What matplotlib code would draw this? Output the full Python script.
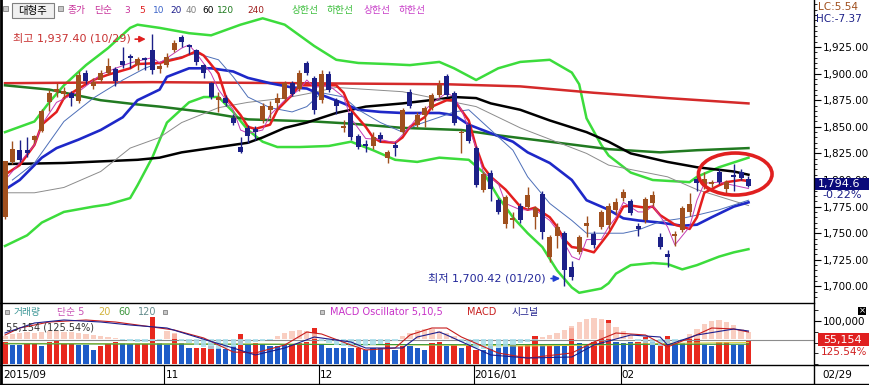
import matplotlib.pyplot as plt
import numpy as np
from matplotlib.patches import Rectangle, Ellipse
from matplotlib.lines import Line2D

plt.rcParams['font.family'] = ['DejaVu Sans', 'Noto Sans CJK KR']

# daily candles, 2015-09-30 .. 2016-02-29
opens = [1765, 1817, 1828, 1828, 1838, 1846, 1873, 1883, 1881, 1882,
         1874, 1901, 1888, 1894, 1901, 1904, 1912, 1917, 1908, 1915,
         1922, 1904, 1908, 1922, 1934, 1926, 1922, 1908, 1891, 1875,
         1877, 1858, 1831, 1849, 1848, 1856, 1866, 1872, 1876, 1891,
         1886, 1910, 1896, 1875, 1900, 1875, 1849, 1863, 1841, 1834,
         1832, 1842, 1821, 1833, 1845, 1883, 1852, 1861, 1868, 1880,
         1898, 1882, 1844, 1852, 1830, 1791, 1807, 1781, 1759, 1762,
         1776, 1775, 1765, 1787, 1728, 1747, 1750, 1718, 1732, 1757,
         1749, 1756, 1758, 1772, 1783, 1780, 1757, 1762, 1778, 1746,
         1730, 1747, 1753, 1770, 1801, 1794, 1796, 1808, 1792, 1804,
         1808, 1801]
highs = [1818, 1837, 1838, 1840, 1842, 1867, 1885, 1891, 1887, 1884,
         1902, 1903, 1896, 1903, 1915, 1906, 1925, 1918, 1916, 1916,
         1937.4, 1910, 1919, 1932, 1936, 1928, 1923, 1909, 1892, 1883,
         1880, 1862, 1840, 1852, 1851, 1872, 1874, 1882, 1893, 1893,
         1903, 1912, 1898, 1903, 1902, 1877, 1856, 1865, 1843, 1838,
         1845, 1845, 1828, 1836, 1868, 1886, 1864, 1870, 1882, 1894,
         1900, 1884, 1847, 1854, 1832, 1808, 1809, 1783, 1786, 1770,
         1778, 1793, 1776, 1790, 1748, 1760, 1752, 1724, 1748, 1766,
         1752, 1772, 1778, 1783, 1792, 1782, 1760, 1784, 1790, 1750,
         1734, 1752, 1776, 1788, 1804, 1808, 1800, 1810, 1800, 1815,
         1810, 1804]
lows = [1763, 1815, 1817, 1822, 1835, 1845, 1865, 1878, 1876, 1870,
        1872, 1890, 1886, 1892, 1899, 1888, 1905, 1905, 1903, 1903,
        1900, 1901, 1906, 1920, 1925, 1918, 1908, 1896, 1876, 1864,
        1870, 1852, 1825, 1835, 1838, 1854, 1858, 1866, 1874, 1879,
        1884, 1899, 1862, 1872, 1883, 1862, 1845, 1838, 1829, 1826,
        1829, 1836, 1816, 1823, 1843, 1868, 1850, 1850, 1866, 1878,
        1878, 1852, 1825, 1835, 1793, 1789, 1780, 1768, 1755, 1755,
        1760, 1773, 1754, 1745, 1723, 1736, 1700.42, 1706, 1730, 1746,
        1736, 1754, 1754, 1768, 1780, 1767, 1747, 1760, 1776, 1735,
        1718, 1738, 1751, 1766, 1790, 1792, 1793, 1796, 1788, 1790,
        1800, 1793]
closes = [1818, 1829, 1819, 1825, 1841, 1865, 1882, 1886, 1884, 1877,
          1899, 1893, 1892, 1901, 1907, 1893, 1908, 1915, 1914, 1913,
          1903, 1907, 1916, 1929, 1930, 1925, 1911, 1901, 1878, 1878,
          1872, 1854, 1826, 1841, 1845, 1870, 1870, 1877, 1891, 1881,
          1901, 1901, 1866, 1900, 1885, 1870, 1851, 1840, 1831, 1832,
          1840, 1839, 1826, 1830, 1866, 1870, 1861, 1868, 1880, 1889,
          1880, 1854, 1845, 1837, 1795, 1806, 1792, 1770, 1784, 1764,
          1762, 1786, 1774, 1751, 1746, 1756, 1715, 1709, 1746, 1760,
          1739, 1770, 1776, 1779, 1789, 1769, 1754, 1782, 1786, 1737,
          1728, 1749, 1774, 1777, 1797, 1801, 1798, 1798, 1798, 1803,
          1802, 1794.6]

# moving averages / bands, sampled at candle indices
ma3_i = [0, 1, 4, 5, 7, 10, 13, 15, 17, 20, 21, 24, 25, 26, 28, 29, 31, 32, 33, 35, 36, 38, 40, 41, 42,
         44, 46, 47, 49, 51, 53, 55, 56, 58, 60, 61, 62, 64, 65, 67, 68, 70, 72, 74, 75, 77, 78, 79, 81,
         82, 83, 84, 86, 87, 88, 90, 91, 93, 94, 95, 97, 99, 101]
ma3_v = [1800, 1808, 1833, 1852, 1873, 1883, 1899, 1905, 1910, 1915, 1910, 1924, 1927, 1919, 1900, 1885,
         1866, 1847, 1844, 1847, 1861, 1875, 1885, 1894, 1887, 1889, 1878, 1858, 1839, 1838, 1835, 1850,
         1859, 1872, 1882, 1878, 1866, 1831, 1807, 1797, 1778, 1772, 1772, 1762, 1753, 1728, 1725, 1744,
         1744, 1756, 1765, 1779, 1770, 1770, 1776, 1756, 1739, 1756, 1781, 1797, 1798, 1795, 1792]
ma5_i = [0, 2, 4, 5, 7, 8, 10, 12, 14, 17, 18, 21, 24, 26, 27, 29, 30, 32, 33, 34, 36, 37, 39, 40, 43,
         45, 46, 47, 49, 50, 51, 53, 54, 55, 57, 58, 60, 61, 63, 64, 65, 66, 68, 70, 71, 72, 74, 75, 76,
         77, 78, 80, 82, 83, 84, 85, 86, 87, 88, 89, 91, 93, 94, 95, 97, 98, 100, 101]
ma5_v = [1805, 1814, 1833, 1852, 1864, 1877, 1886, 1894, 1899, 1905, 1909, 1910, 1915, 1921, 1917, 1900,
         1878, 1861, 1850, 1848, 1852, 1866, 1880, 1889, 1889, 1889, 1882, 1866, 1850, 1840, 1836, 1835,
         1840, 1850, 1859, 1869, 1875, 1875, 1856, 1831, 1812, 1803, 1791, 1775, 1772, 1774, 1765, 1756,
         1744, 1737, 1736, 1732, 1750, 1762, 1775, 1776, 1775, 1774, 1775, 1767, 1758, 1754, 1765, 1788,
         1795, 1798, 1800, 1799]
ma10_i = [1, 4, 8, 12, 16, 19, 22, 26, 29, 31, 33, 36, 39, 41, 43, 46, 48, 51, 54, 56, 59, 61, 63, 66,
          69, 71, 74, 77, 79, 82, 84, 86, 89, 92, 94, 97, 101]
ma10_v = [1800, 1816, 1855, 1877, 1894, 1905, 1913, 1919, 1913, 1897, 1878, 1868, 1864, 1869, 1882,
          1878, 1866, 1854, 1845, 1852, 1859, 1864, 1866, 1847, 1828, 1803, 1778, 1762, 1750, 1750, 1750,
          1753, 1761, 1764, 1767, 1772, 1781]
ma20_i = [0, 2, 5, 7, 10, 13, 16, 18, 21, 22, 25, 28, 31, 33, 36, 39, 41, 43, 46, 48, 51, 54, 56, 59,
          61, 63, 66, 69, 71, 74, 77, 79, 82, 84, 86, 89, 92, 94, 96, 99, 101]
ma20_v = [1791, 1800, 1821, 1830, 1838, 1847, 1859, 1875, 1885, 1897, 1905, 1905, 1902, 1896, 1891,
          1887, 1886, 1880, 1872, 1866, 1864, 1863, 1863, 1863, 1861, 1852, 1844, 1836, 1826, 1816,
          1800, 1781, 1772, 1764, 1762, 1760, 1757, 1758, 1765, 1775, 1779]
ma40_i = [0, 4, 8, 13, 17, 21, 24, 29, 33, 38, 41, 45, 54, 64, 70, 79, 82, 90, 94, 101]
ma40_v = [1788, 1788, 1793, 1808, 1830, 1840, 1854, 1868, 1873, 1877, 1881, 1887, 1883, 1869, 1849,
          1825, 1814, 1803, 1791, 1776]
ma60_i = [0, 8, 18, 21, 24, 29, 33, 35, 38, 41, 45, 49, 54, 59, 61, 64, 66, 70, 74, 79, 82, 85, 90,
          94, 99, 101]
ma60_v = [1815, 1816, 1819, 1821, 1826, 1831, 1835, 1840, 1849, 1854, 1863, 1869, 1872, 1876, 1878,
          1877, 1872, 1866, 1856, 1845, 1836, 1825, 1817, 1812, 1808, 1805]
ma120_i = [0, 6, 13, 18, 21, 27, 33, 42, 47, 54, 62, 67, 74, 82, 89, 94, 101]
ma120_v = [1889, 1885, 1875, 1871, 1869, 1864, 1857, 1855, 1853, 1849, 1847, 1842, 1836, 1829, 1826,
           1828, 1830]
ma240_i = [0, 20, 40, 60, 70, 80, 90, 101]
ma240_v = [1891, 1892, 1891, 1890, 1888, 1882, 1877, 1872]
bb_up_i = [0, 4, 6, 8, 11, 14, 17, 18, 21, 25, 28, 32, 35, 38, 42, 45, 48, 52, 55, 59, 61, 64, 67, 70,
           74, 77, 78, 79, 81, 82, 85, 88, 93, 94, 97, 101]
bb_up_v = [1845, 1855, 1873, 1889, 1908, 1924, 1943, 1946, 1943, 1938, 1936, 1946, 1952, 1946, 1926,
           1913, 1910, 1909, 1908, 1911, 1905, 1894, 1905, 1911, 1913, 1901, 1890, 1858, 1833, 1823,
           1807, 1800, 1798, 1803, 1812, 1821]
bb_lo_i = [0, 3, 5, 8, 12, 14, 17, 18, 20, 22, 25, 27, 29, 31, 33, 35, 37, 40, 44, 47, 50, 53, 56, 59,
           63, 65, 67, 69, 71, 73, 75, 77, 78, 81, 82, 83, 85, 88, 90, 92, 94, 97, 99, 101]
bb_lo_v = [1738, 1748, 1760, 1770, 1775, 1777, 1783, 1795, 1821, 1854, 1873, 1878, 1878, 1864, 1847,
           1836, 1831, 1831, 1832, 1836, 1828, 1819, 1817, 1821, 1819, 1807, 1784, 1765, 1750, 1737,
           1715, 1699, 1694, 1698, 1703, 1712, 1720, 1722, 1721, 1716, 1720, 1728, 1732, 1735]

# volume (thousand shares) and its colour (1 = red, 0 = blue)
volume = [52, 44, 44, 46, 46, 43, 52, 53, 50, 50, 44, 44, 33, 41, 46, 52, 50, 46, 46, 46,
          110, 48, 44, 70, 48, 37, 38, 38, 41, 37, 35, 41, 70, 44, 50, 46, 41, 43, 44, 44,
          50, 52, 84, 44, 37, 37, 38, 37, 37, 33, 37, 37, 48, 33, 41, 41, 37, 33, 50, 52,
          43, 44, 37, 44, 33, 33, 41, 37, 44, 44, 41, 44, 64, 44, 44, 44, 44, 84, 48, 44,
          52, 78, 103, 52, 48, 52, 52, 62, 52, 44, 64, 48, 48, 60, 60, 44, 41, 52, 52, 44,
          44, 55.154]
vol_red = [1, 0, 0, 1, 1, 0, 1, 1, 1, 1, 0, 0, 0, 1, 1, 1, 0, 0, 1, 1,
           1, 0, 0, 1, 0, 0, 1, 1, 1, 0, 0, 0, 1, 0, 1, 0, 0, 0, 0, 1,
           1, 1, 1, 0, 0, 0, 0, 0, 1, 0, 0, 0, 1, 0, 1, 0, 0, 0, 1, 1,
           0, 1, 0, 1, 1, 0, 0, 0, 0, 0, 1, 1, 1, 0, 1, 0, 0, 1, 0, 0,
           1, 1, 1, 0, 0, 0, 1, 1, 0, 1, 1, 0, 0, 1, 1, 0, 0, 1, 1, 0,
           0, 1]
vma20_i = [0, 20, 40, 60, 70, 80, 90, 101]
vma20_v = [48, 47, 46, 44, 42, 44, 48, 50]
vma60_i = [0, 30, 60, 101]
vma60_v = [47, 46, 45, 46]

# MACD oscillator 5,10,5 (chart units)
macd_osc = [3, 5, 6, 7, 6, 7, 8, 8, 7, 7, 6, 5, 4, 3, 2, 1, -1, -2, -3, -3,
            -2, -1, 8, 6, -2, -4, -6, -8, -10, -10, -9, -8, -6, -4, -3, -2, -1, 3, 6, 8,
            9, 8, 6, -2, -4, -6, -7, -8, -8, -7, -6, -5, -4, -2, 3, 6, 9, 10, 10, 8,
            6, 3, -3, -6, -9, -10, -10, -9, -8, -6, -4, -3, -1, 2, 4, 6, 9, 13, 17, 20,
            21, 20, 16, 12, 8, 4, -2, -4, -6, -7, -5, -3, -1, 5, 10, 15, 18, 19, 17, 14,
            10, 7]
macd_i = [0, 2, 6, 11, 15, 20, 23, 27, 31, 34, 38, 41, 43, 47, 49, 53, 55, 58, 60, 62, 67, 71, 77,
          80, 83, 87, 90, 93, 96, 99, 101]
macd_v = [4, 11, 17, 19, 17, 12, 9, 1, -13, -14, -6, 7, 5, -6, -11, -9, 4, 11, 11, 2, -14, -19, -14,
          -3, 6, 4, -8, 1, 11, 10, 7]
sig_i = [0, 4, 8, 13, 17, 22, 26, 31, 34, 38, 42, 47, 49, 54, 56, 59, 60, 66, 71, 77, 80, 85, 89,
         90, 94, 99, 101]
sig_v = [6, 16, 19, 17, 14, 11, 2, -9, -16, -9, 2, -3, -9, -9, 2, 7, 4, -16, -19, -18, -6, 4, 2, -6,
         4, 10, 8]

month_labels = ['2015/09', '11', '12', '2016/01', '02']
month_starts = [0, 22, 43, 64, 84]

W, H = 869, 385
fig = plt.figure(figsize=(W / 100, H / 100), dpi=100)


def box(x0, y0, x1, y1):
    return [x0 / W, 1 - y1 / H, (x1 - x0) / W, (y1 - y0) / H]


def ftext(x, y, s, **kw):
    fig.text(x / W, 1 - y / H, s, **kw)


def fline(xs, ys, **kw):
    fig.add_artist(Line2D([v / W for v in xs], [1 - v / H for v in ys], transform=fig.transFigure, **kw))


def frect(x0, y0, x1, y1, **kw):
    fig.add_artist(Rectangle((x0 / W, 1 - y1 / H), (x1 - x0) / W, (y1 - y0) / H,
                             transform=fig.transFigure, **kw))


n = len(closes)
idx = np.arange(n)
xlim = (-0.68, 109.9)

# ---------------- price panel ----------------
ax = fig.add_axes(box(0, 0, 814, 303))
ax.set_xlim(*xlim)
ax.set_ylim(1684.4, 1969.2)
for s in ax.spines.values():
    s.set_visible(False)
ax.set_xticks([])
ax.yaxis.tick_right()
ax.set_yticks(np.arange(1700, 1926, 25))
ax.set_yticklabels([f'{v:,.2f}' for v in np.arange(1700, 1926, 25)])
ax.set_yticks(np.arange(1690, 1966, 5), minor=True)
ax.tick_params(axis='y', which='major', direction='out', length=5, width=0.8, pad=1, labelsize=7.5)
ax.tick_params(axis='y', which='minor', direction='out', length=2.5, width=0.6)

ax.plot(bb_up_i, bb_up_v, color='#3CDC3C', lw=1.8, zorder=2)
ax.plot(bb_lo_i, bb_lo_v, color='#3CDC3C', lw=1.8, zorder=2)
ax.plot(ma240_i, ma240_v, color='#D42A2A', lw=1.8, zorder=3)
ax.plot(ma120_i, ma120_v, color='#217A21', lw=1.8, zorder=3)
ax.plot(ma60_i, ma60_v, color='black', lw=1.8, zorder=3)
ax.plot(ma40_i, ma40_v, color='#8C8C8C', lw=0.7, zorder=3)
ax.plot(ma20_i, ma20_v, color='#1E28C8', lw=1.9, zorder=3)
ax.plot(ma10_i, ma10_v, color='#4D6FB8', lw=0.7, zorder=3)
ax.plot(ma5_i, ma5_v, color='#E41E1E', lw=1.8, zorder=4)
ax.plot(ma3_i, ma3_v, color='#C43CB4', lw=0.7, zorder=4)

o = np.array(opens)
c = np.array(closes)
cols = np.where(c >= o, '#A0501E', '#1C2088')
ax.vlines(idx, lows, highs, colors=cols, lw=1.0, zorder=5)
ax.bar(idx, np.maximum(np.abs(c - o), 1.5), bottom=np.minimum(o, c), width=0.68,
       color=cols, linewidth=0, zorder=6)

# high / low markers
hi = int(np.argmax(highs))
lo = int(np.argmin(lows))
ax.text(hi - 2.9, highs[hi] - 4, f'최고 {highs[hi]:,.2f} (10/29)', color='#C83232', fontsize=8,
        ha='right', va='center')
ax.annotate('', xy=(hi - 0.5, highs[hi] - 5), xytext=(hi - 2.7, highs[hi] - 5),
            arrowprops=dict(arrowstyle='-|>', color='#E02020', lw=1.2, mutation_scale=9))
ax.text(lo - 2.5, lows[lo] + 7, f'최저 {lows[lo]:,.2f} (01/20)', color='#23289A', fontsize=8,
        ha='right', va='center')
ax.annotate('', xy=(lo - 0.2, lows[lo] + 7), xytext=(lo - 2.2, lows[lo] + 7),
            arrowprops=dict(arrowstyle='-|>', color='#2040D0', lw=1.2, mutation_scale=9))
ax.add_patch(Ellipse((n - 2.8, 1805.6), 10.0, 39.5, fill=False, edgecolor='#E02020', lw=2.6, zorder=8))

# ---------------- volume / MACD panel ----------------
axv = fig.add_axes(box(0, 303, 814, 365))
axv.set_xlim(*xlim)
axv.set_ylim(-2.3, 141.9)
for s in axv.spines.values():
    s.set_visible(False)
axv.set_xticks([])
axv.yaxis.tick_right()
axv.set_yticks([100])
axv.set_yticklabels(['100,000'])
axv.set_yticks([0, 25, 50, 75, 125], minor=True)
axv.tick_params(axis='y', which='major', direction='out', length=5, width=0.8, pad=1, labelsize=7.5)
axv.tick_params(axis='y', which='minor', direction='out', length=3, width=0.6)
vcols = ['#E8281E' if r else '#1E5CC8' for r in vol_red]
axv.bar(idx, volume, width=0.72, color=vcols, linewidth=0, zorder=2)
axv.plot(vma20_i, vma20_v, color='#E0D040', lw=0.8, zorder=4)
axv.plot(vma60_i, vma60_v, color='#3A9A3A', lw=0.8, zorder=4)
axv.axhline(volume[-1], color='#8C8C8C', lw=0.8, zorder=5)

axm = fig.add_axes(box(0, 303, 814, 365))
axm.patch.set_alpha(0)
axm.set_xlim(*xlim)
axm.set_ylim(-26, 36)
axm.axis('off')
osc = np.array(macd_osc)
ocols = np.where(osc >= 0, '#F9C6B6', '#A6DCEA')
axm.bar(idx, osc, width=0.72, color=ocols, alpha=0.85, linewidth=0, zorder=2)
axm.plot(macd_i, macd_v, color='#C81E1E', lw=0.8, zorder=3)
axm.plot(sig_i, sig_v, color='#1E1E8C', lw=0.8, zorder=3)

# ---------------- date row ----------------
axd = fig.add_axes(box(0, 365, 814, 384))
axd.set_xlim(*xlim)
axd.set_ylim(0, 1)
axd.axis('off')
for lab, st in zip(month_labels, month_starts):
    if st > 0:
        axd.axvline(st - 0.35, color='black', lw=0.8)
    axd.text(st - 0.2, 0.45, lab, fontsize=7.5, ha='left', va='center')
ftext(822, 375, '02/29', fontsize=7.5, va='center')

# frame lines
fline([1, 1], [0, 385], color='black', lw=2)
fline([814, 814], [0, 385], color='black', lw=1)
fline([0, 814], [303, 303], color='black', lw=1)
fline([0, 869], [365, 365], color='black', lw=1)
fline([0, 869], [384, 384], color='black', lw=1)

# top legend
frect(3, 6, 8, 11, facecolor='#C8C8C8', edgecolor='#808080', lw=0.6)
frect(12, 3, 54, 18, facecolor='#F0F0F0', edgecolor='#808080', lw=0.8)
ftext(33, 10.5, '대형주', fontsize=7.5, ha='center', va='center')
frect(58, 6, 63, 11, facecolor='#C8C8C8', edgecolor='#808080', lw=0.6)
legend_words = ['종가', '단순', '3', '5', '10', '20', '40', '60', '120', '240',
                '상한선', '하한선', '상한선', '하한선']
legend_x = [68, 94, 124, 139, 153, 170, 186, 202, 217, 247, 292, 327, 364, 399]
legend_colors = ['#C8329B', '#C8329B', '#C8329B', '#E01E1E', '#3C64C8', '#1E1E8C', '#808080',
                 '#000000', '#1E7A1E', '#A01E1E', '#3CBE3C', '#3CBE3C', '#C83CC8', '#C83CC8']
for w, x, col in zip(legend_words, legend_x, legend_colors):
    ftext(x, 10.5, w, fontsize=7 if not w.isdigit() else 6.5, color=col, va='center')

# volume legend
frect(5, 310, 9, 314, facecolor='#C8C8C8', edgecolor='#808080', lw=0.6)
vleg = ['거래량', '단순 5', '20', '60', '120']
vleg_x = [14, 57, 98, 118, 138]
vleg_c = ['#3C9696', '#C850B4', '#D2B43C', '#3C963C', '#648C8C']
for w, x, col in zip(vleg, vleg_x, vleg_c):
    ftext(x, 312, w, fontsize=7, color=col, va='center')
frect(163, 310, 167, 314, facecolor='#C8C8C8', edgecolor='#808080', lw=0.6)
ftext(6, 327, '55,154 (125.54%)', fontsize=7, color='#333333', va='center')
frect(320, 310, 324, 314, facecolor='#C8C8C8', edgecolor='#808080', lw=0.6)
ftext(330, 312, 'MACD Oscillator 5,10,5', fontsize=7, color='#C832C8', va='center')
ftext(467, 312, 'MACD', fontsize=7, color='#C81E1E', va='center')
ftext(512, 312, '시그널', fontsize=7, color='#1E1E8C', va='center')

# right column boxes
ftext(818, 7, 'LC:5.54', fontsize=7.5, color='#A0501E', va='center')
ftext(816, 19, 'HC:-7.37', fontsize=7.5, color='#1C2088', va='center')
frect(815, 178, 869, 190, facecolor='#0A0A7A', edgecolor='none')
ftext(818, 184, f'{closes[-1]:,.1f}', fontsize=8, color='white', va='center')
ftext(822, 195, '-0.22%', fontsize=8, color='#1C2088', va='center')
frect(818, 333, 869, 346, facecolor='#E02020', edgecolor='none')
ftext(823, 339.5, f'{volume[-1] * 1000:,.0f}', fontsize=8, color='white', va='center')
ftext(821, 352, '125.54%', fontsize=7.5, color='#D02020', va='center')
frect(858, 307, 866, 315, facecolor='black', edgecolor='none')
ftext(862, 311, '×', fontsize=6, color='white', ha='center', va='center')

fig.savefig('out.png', dpi=100)
